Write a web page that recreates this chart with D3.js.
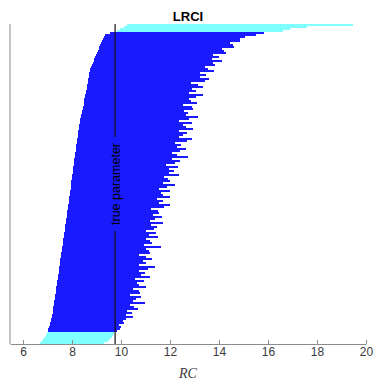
<!DOCTYPE html>
<html>
<head>
<meta charset="utf-8">
<script src="https://cdn.jsdelivr.net/npm/d3@7"></script>
<style>
  body { margin: 0; background: #fff; }
  svg { display: block; font-family: "Liberation Sans", Arial, sans-serif; }
</style>
</head>
<body>
<div id="chart"></div>
<script>
// confidence intervals, sorted by lower bound (bottom row first)
var lower = [
  6.71, 6.78, 6.82, 6.88, 6.92, 6.96,
  7.02, 7.04, 7.07, 7.09, 7.11, 7.14, 7.16, 7.18,
  7.20, 7.21, 7.22, 7.23, 7.24, 7.26, 7.27, 7.28, 7.29, 7.30, 7.31, 7.33, 7.34, 7.35, 7.36, 7.38, 7.39,
  7.40, 7.41, 7.42, 7.44, 7.45, 7.46, 7.47, 7.49, 7.50, 7.51, 7.52, 7.53, 7.55, 7.56, 7.57, 7.58,
  7.60, 7.61, 7.62, 7.63, 7.64, 7.65, 7.66, 7.68, 7.69, 7.70,
  7.71, 7.72, 7.73, 7.74, 7.75, 7.77, 7.78, 7.79, 7.80, 7.81,
  7.82, 7.83, 7.84, 7.86, 7.87, 7.88, 7.89, 7.90, 7.91, 7.92,
  7.94, 7.95, 7.96, 7.97, 7.98, 7.99, 8.00, 8.01, 8.03, 8.04,
  8.05, 8.06, 8.07, 8.08, 8.09, 8.10, 8.12, 8.13, 8.14, 8.15,
  8.16, 8.17, 8.18, 8.20, 8.21, 8.22, 8.23, 8.24, 8.25, 8.26,
  8.27, 8.29, 8.30, 8.31, 8.32,
  8.33, 8.36, 8.38, 8.39, 8.41, 8.43, 8.45,
  8.47, 8.48, 8.50, 8.51, 8.53, 8.55, 8.56, 8.58, 8.60, 8.61,
  8.63, 8.64, 8.66, 8.67, 8.69, 8.70, 8.71, 8.73,
  8.74, 8.78, 8.81, 8.84, 8.88, 8.91, 8.94, 8.98, 9.01,
  9.05, 9.09, 9.12, 9.16, 9.19, 9.23, 9.27, 9.30, 9.36,
  9.55,
  9.84, 9.96, 10.12, 10.24
];
var upper = [
  9.30, 9.45, 9.55, 9.62, 9.67, 9.72,
  9.82, 9.95, 10.02, 9.92, 10.12, 10.08, 10.20,
  10.47, 10.22, 10.46, 10.23, 10.71, 10.55, 10.38, 10.97, 10.49, 10.61,
  10.83, 10.35, 10.77, 10.74, 10.51, 11.03, 10.75, 10.67, 10.94, 10.57,
  11.19, 10.81, 10.98, 10.75, 11.11, 11.38, 10.75, 11.02, 10.89, 11.25,
  11.02, 10.73, 11.20, 11.16, 11.03, 11.65, 10.93, 11.25, 11.18, 11.04,
  11.51, 11.13, 11.44, 11.01, 11.33, 11.46, 11.23, 11.70, 11.18, 11.40,
  11.67, 11.30, 11.57, 11.50, 11.22, 11.75, 12.02, 11.55, 11.72, 11.46,
  11.99, 11.72, 11.65, 11.98, 11.56, 11.89, 12.21, 11.73, 12.01, 11.93,
  11.76, 12.38, 11.95, 12.18, 11.96, 12.34, 11.83, 12.21, 12.39, 12.07,
  12.75, 12.27, 12.09, 12.42, 12.65, 12.28, 12.46, 12.19, 12.68, 12.90,
  12.37, 12.54, 12.71, 12.38, 12.94, 12.65, 12.52, 12.88, 12.35, 12.77,
  13.14, 12.66, 12.72, 12.58, 12.95, 12.88, 12.55, 13.12, 12.85, 12.78,
  13.06, 13.34, 12.77, 13.05, 12.89, 13.33, 13.13, 12.87, 13.41, 13.61,
  13.22, 13.47, 13.23, 13.78, 13.54, 13.44, 13.84, 13.74, 14.14, 13.70,
  14.02, 13.75, 14.27, 14.19, 14.14, 14.60, 14.56, 14.43, 14.84, 14.84,
  15.07, 15.50, 15.85,
  16.6, 16.9, 17.6, 19.47
];
var trueParameter = 9.76;
var xTicks = [6, 8, 10, 12, 14, 16, 18, 20];
var xDomain = [5.47, 20];
var titleText = "LRCI";
var xLabel = "RC";
var lineLabel = "true parameter";

var width = 375, height = 386;
var n = lower.length;

var x = d3.scaleLinear().domain(xDomain).range([10, 366]);
var y = d3.scaleLinear().domain([-0.5, n - 0.5]).range([344, 24]);

var svg = d3.select("#chart").append("svg")
    .attr("width", width)
    .attr("height", height);

// intervals: blue if they cover the true value, cyan otherwise
var rowH = Math.abs(y(1) - y(0));
svg.append("g")
    .attr("class", "intervals")
  .selectAll("line")
    .data(d3.range(n))
  .enter().append("line")
    .attr("x1", function(i) { return x(lower[i]); })
    .attr("x2", function(i) { return x(upper[i]); })
    .attr("y1", function(i) { return y(i); })
    .attr("y2", function(i) { return y(i); })
    .attr("stroke", function(i) {
      return (lower[i] <= trueParameter && upper[i] >= trueParameter) ? "#1a1aff" : "#80ffff";
    })
    .attr("stroke-width", rowH)
    .attr("shape-rendering", "crispEdges");

// axes
var xAxis = d3.axisBottom(x)
    .tickValues(xTicks)
    .tickSizeInner(-4)
    .tickSizeOuter(0)
    .tickPadding(3);

var gx = svg.append("g")
    .attr("transform", "translate(0,344)")
    .call(xAxis);
gx.select(".domain").attr("stroke", "#8c8c8c");
gx.selectAll(".tick line").attr("stroke", "#8c8c8c");
gx.selectAll(".tick text")
    .attr("fill", "#3a3a3a")
    .style("font-size", "12px")
    .style("font-family", "'Liberation Sans', Arial, sans-serif");

svg.append("line")
    .attr("x1", 10).attr("x2", 10)
    .attr("y1", 24).attr("y2", 344)
    .attr("stroke", "#8c8c8c");

// true parameter line with inline label
var xp = x(trueParameter);
var yMid = (y(-0.5) + y(n - 0.5)) / 2;
var label = svg.append("text")
    .attr("transform", "translate(" + (xp + 0.5) + "," + yMid + ") rotate(-90)")
    .attr("text-anchor", "middle")
    .attr("dy", "0.35em")
    .style("font-size", "12.5px")
    .attr("fill", "#000")
    .text(lineLabel);
var half = label.node().getComputedTextLength() / 2 + 6;

svg.append("line")
    .attr("x1", xp).attr("x2", xp)
    .attr("y1", y(n - 0.5)).attr("y2", yMid - half)
    .attr("stroke", "#111").attr("stroke-width", 1.2);
svg.append("line")
    .attr("x1", xp).attr("x2", xp)
    .attr("y1", yMid + half).attr("y2", y(-0.5))
    .attr("stroke", "#111").attr("stroke-width", 1.2);

// title and x label
svg.append("text")
    .attr("x", 188).attr("y", 20.5)
    .attr("text-anchor", "middle")
    .style("font-size", "13px")
    .style("font-weight", "bold")
    .attr("fill", "#000")
    .text(titleText);

svg.append("text")
    .attr("x", 188).attr("y", 378)
    .attr("text-anchor", "middle")
    .style("font-family", "'Liberation Serif', 'Times New Roman', serif")
    .style("font-style", "italic")
    .style("font-size", "14px")
    .attr("fill", "#3a3a3a")
    .text(xLabel);
</script>
</body>
</html>
